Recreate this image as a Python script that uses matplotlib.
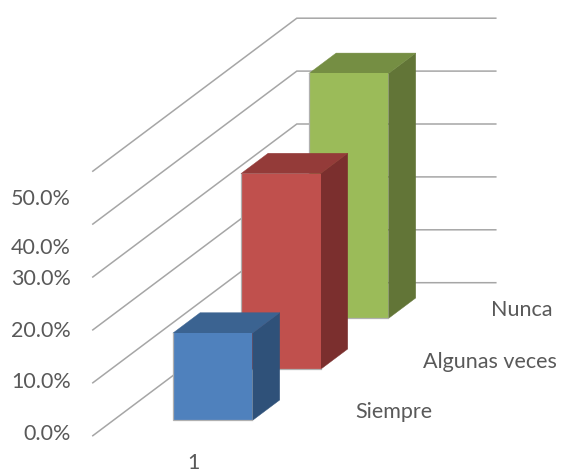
import matplotlib
matplotlib.use("Agg")
import matplotlib.pyplot as plt
from matplotlib.patches import Polygon

plt.rcParams['font.family'] = ['Lato', 'DejaVu Sans']

# Chart data
series_names = ["Siempre", "Algunas veces", "Nunca"]
series_values = [0.165, 0.370, 0.463]
grid_values = [0.0, 0.1, 0.2, 0.3, 0.4, 0.5]
value_labels = ["0.0%", "10.0%", "20.0%", "30.0%", "40.0%", "50.0%"]
category_labels = ["1"]

# Colours: front, top and side shades of each column
front_colors = ["#4F81BD", "#C0504D", "#9BBB59"]
top_colors = ["#3B6391", "#943B39", "#758E43"]
side_colors = ["#2F5179", "#7B2F2E", "#627537"]
GRID = "#A6A6A6"
TEXT = "#595959"
FONT_SIZE = 15.5

# Oblique projection of the 3-D box, in figure pixels
ORIGIN_X, ORIGIN_Y = 92.8, 435.7
PX_PER_VALUE = 529.0
PX_PER_CATEGORY = 199.0
DEPTH_DX, DEPTH_DY = 68.0, 51.0
DEPTH_TOTAL = 3.0
BAR_X0, BAR_X1 = 0.30, 0.70
BAR_DEPTH_START = 0.30
BAR_DEPTH = 0.40


def project(x, depth, value):
    """Map category position, depth and value onto the page."""
    px = ORIGIN_X + x * PX_PER_CATEGORY + depth * DEPTH_DX
    py = ORIGIN_Y - depth * DEPTH_DY - value * PX_PER_VALUE
    return px, py


fig = plt.figure(figsize=(5.64, 4.76), dpi=100)
ax = fig.add_axes([0, 0, 1, 1])
ax.set_xlim(0, 564)
ax.set_ylim(476, 0)
ax.axis("off")

# Gridlines run along the side wall, then across the back wall
for v in grid_values:
    pts = [project(0, 0, v), project(0, DEPTH_TOTAL, v), project(1, DEPTH_TOTAL, v)]
    ax.plot(*zip(*pts), color=GRID, lw=1.1, solid_joinstyle="miter", zorder=1)

# Columns, painted from the back row forward
for i in reversed(range(len(series_values))):
    val = series_values[i]
    d0 = i + BAR_DEPTH_START
    d1 = d0 + BAR_DEPTH
    z = 2 + (len(series_values) - i)
    front = [project(BAR_X0, d0, 0), project(BAR_X1, d0, 0),
             project(BAR_X1, d0, val), project(BAR_X0, d0, val)]
    side = [project(BAR_X1, d0, 0), project(BAR_X1, d1, 0),
            project(BAR_X1, d1, val), project(BAR_X1, d0, val)]
    top = [project(BAR_X0, d0, val), project(BAR_X1, d0, val),
           project(BAR_X1, d1, val), project(BAR_X0, d1, val)]
    ax.add_patch(Polygon(side, closed=True, fc=side_colors[i], ec=side_colors[i], lw=0.3, zorder=z))
    ax.add_patch(Polygon(top, closed=True, fc=top_colors[i], ec=top_colors[i], lw=0.3, zorder=z))
    ax.add_patch(Polygon(front, closed=True, fc=front_colors[i], ec="none", zorder=z))
    # Thin grey rim along the left and bottom of the front face
    rim = [front[3], front[0], front[1]]
    ax.plot(*zip(*rim), color="#B0B0B0", lw=0.9, solid_joinstyle="miter", zorder=z + 0.1)

# The value labels sit at their own spacing beside the wall
label_y = [434, 382, 331, 279, 248, 199]
for text, y in zip(value_labels, label_y):
    ax.text(71, y, text, ha="right", va="center", color=TEXT, fontsize=FONT_SIZE)

ax.text(193, 463, category_labels[0], ha="center", va="center", color=TEXT, fontsize=FONT_SIZE)

series_label_x = [355, 423, 491]
series_label_y = [412.5, 361.5, 309.5]
for name, x, y in zip(series_names, series_label_x, series_label_y):
    ax.text(x, y, name, ha="left", va="center", color=TEXT, fontsize=FONT_SIZE)

fig.savefig("out.png", dpi=100, facecolor="white")
